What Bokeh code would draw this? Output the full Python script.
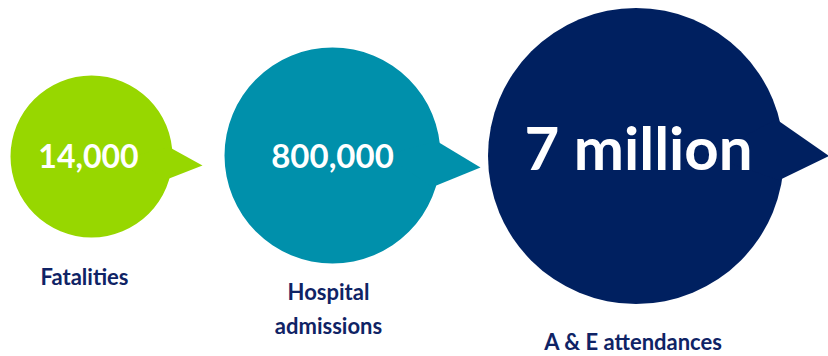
import math
from bokeh.plotting import figure
from bokeh.models import Range1d, ColumnDataSource
from bokeh.core.properties import value
from bokeh.embed import file_html
from bokeh.resources import INLINE

# ---- data ----
categories = ["Fatalities", "Hospital\nadmissions", "A & E attendances"]
value_labels = ["14,000", "800,000", "7 million"]

# ---- layout / style (reference pixel space, y downwards) ----
cx = [91, 332, 635.5]
cy = [156, 155, 155.5]
radius = [81, 108, 148]
ptr_up = [-7.0, -7.9, -14.7]      # degrees, pointer base upper angle
ptr_low = [17.3, 17.5, 9.6]       # degrees, pointer base lower angle
ptr_tip_dx = [111, 148, 193]
ptr_tip_dy = [9, 12, 0]
colors = ["#97D700", "#0090AB", "#002060"]
val_x = [88, 332, 638]
val_y = [155, 155, 146]
val_size = ["32px", "33px", "60px"]
lab_x = [84, 328, 633]
lab_y = [276, 308, 341]
lab_color = "#0F2365"
FONT = "Lato"

W, H = 828, 356
p = figure(width=W, height=H, output_backend="svg", toolbar_location=None,
           x_range=Range1d(0, W), y_range=Range1d(H, 0),
           min_border=0, border_fill_color="white", background_fill_color="white",
           outline_line_color=None)
p.axis.visible = False
p.grid.visible = False

# bubbles
p.circle(x=cx, y=cy, radius=radius, fill_color=colors, line_color=None)
xs, ys = [], []
for i in range(3):
    a1 = math.radians(ptr_up[i]); a2 = math.radians(ptr_low[i])
    r = radius[i] - 3
    xs.append([cx[i] + r * math.cos(a1), cx[i] + ptr_tip_dx[i], cx[i] + r * math.cos(a2), cx[i] + r * 0.5])
    ys.append([cy[i] + r * math.sin(a1), cy[i] + ptr_tip_dy[i], cy[i] + r * math.sin(a2), cy[i]])
p.patches(xs=xs, ys=ys, fill_color=colors, line_color=None)

# value text
src_v = ColumnDataSource(dict(x=val_x, y=val_y, t=value_labels, s=val_size))
p.text(x="x", y="y", text="t", source=src_v, text_color="white", text_font=value(FONT),
       text_font_style="bold", text_font_size="s", text_align="center", text_baseline="middle")

# category labels
src_l = ColumnDataSource(dict(x=lab_x, y=lab_y, t=categories))
p.text(x="x", y="y", text="t", source=src_l, text_color=lab_color, text_font=value(FONT),
       text_font_style="bold", text_font_size="22px", text_align="center", text_baseline="middle",
       text_line_height=1.25)

open("out.html", "w").write(file_html(p, INLINE))
